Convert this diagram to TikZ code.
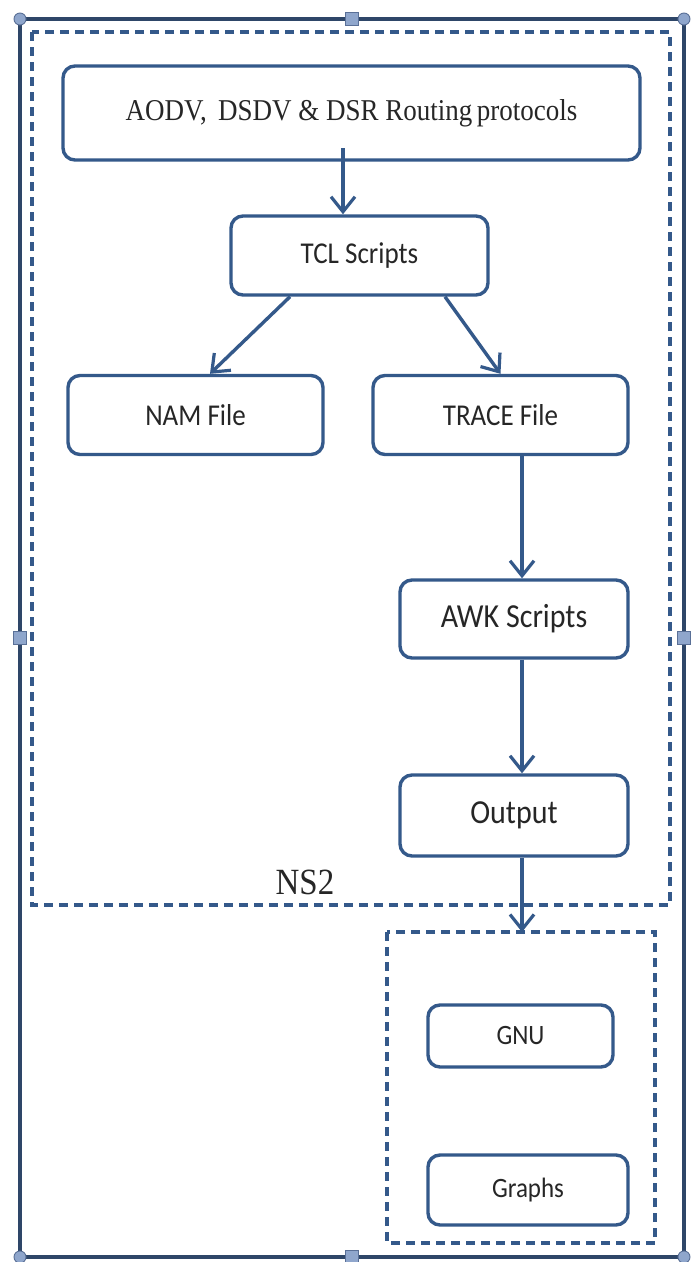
\documentclass[tikz,border=0pt]{standalone}
\usepackage{fontspec}
\setmainfont{Liberation Serif}
\newfontfamily\calfont{Carlito}
\usetikzlibrary{arrows.meta,calc}
\definecolor{ln}{HTML}{34598A}
\definecolor{fr}{HTML}{2E4668}
\definecolor{hf}{HTML}{8FA6CC}
\definecolor{hd}{HTML}{5A7097}
\newcommand\vs[1]{\scalebox{1}[1.12]{#1}}
\tikzset{
  box/.style={draw=ln, line width=3.4pt, rounded corners=12pt, fill=white, align=center, inner sep=0pt, text=black!85},
  cbox/.style={box, font=\calfont\fontsize{27}{30}\selectfont},
  arr/.style={draw=ln, line width=3.4pt, -{Straight Barb[length=15pt,width=24pt,line width=3.2pt]}},
  dbox/.style={draw=ln, line width=3.4pt, dash pattern=on 9pt off 6pt},
  frame/.style={draw=fr, line width=3.6pt},
  chandle/.style={circle, draw=hd, fill=hf, line width=0.9pt, minimum size=12pt, inner sep=0pt},
  shandle/.style={rectangle, draw=hd, fill=hf, line width=0.9pt, minimum size=13pt, inner sep=0pt}
}
\begin{document}
\begin{tikzpicture}[x=1pt,y=-1pt]
\useasboundingbox (0,0) rectangle (699,1262);
\fill[white] (0,0) rectangle (699,1262);
% outer frame
\draw[frame] (20,19) rectangle (684,1257);
% dashed containers
\draw[dbox] (32,32) rectangle (670,905);
\draw[dbox] (387,932) rectangle (655,1243);
\coordinate (g2top) at (522,932);
% boxes
\node[box, minimum width=577pt, minimum height=94pt, font=\fontsize{27}{30}\selectfont] (aodv) at (351.5,113) {\vs{AODV,\, DSDV \& DSR Routing\,protocols}};
\node[cbox, minimum width=257pt, minimum height=79pt] (tcl) at (359.5,255.5) {\vs{TCL Scripts}};
\node[cbox, minimum width=255pt, minimum height=79pt] (nam) at (195.5,415) {\vs{NAM File}};
\node[cbox, minimum width=255pt, minimum height=79pt] (trace) at (500.5,415) {\vs{TRACE File}};
\node[box, minimum width=228pt, minimum height=78pt, font=\calfont\fontsize{30}{33}\selectfont] (awk) at (514,619) {\vs{AWK Scripts}};
\node[box, minimum width=228pt, minimum height=81pt, font=\calfont\fontsize{30}{33}\selectfont] (out) at (514,815.5) {\vs{Output}};
\node[box, minimum width=185pt, minimum height=62pt, font=\calfont\fontsize{25}{28}\selectfont] (gnu) at (520.5,1036) {\vs{GNU}};
\node[box, minimum width=200pt, minimum height=70pt, font=\calfont\fontsize{25}{28}\selectfont] (graphs) at (528,1190) {\vs{Graphs}};
\node[font=\fontsize{33}{36}\selectfont, text=black!85] (ns2) at (305,882) {\vs{NS2}};
% connectors
\coordinate (ain) at (343,148);
\draw[arr] (ain) -- (ain |- tcl.north);
\draw[arr] ([xshift=-69.5pt]tcl.south) -- ([xshift=14.5pt]nam.north);
\draw[arr] ([xshift=85.5pt]tcl.south) -- (trace.north);
\draw[arr] (trace.south -| 522,0) -- (awk.north -| 522,0);
\draw[arr] (awk.south -| 522,0) -- (out.north -| 522,0);
\draw[arr] (out.south -| 522,0) -- (g2top);
% selection handles
\node[chandle] (h1) at (20,19) {};
\node[chandle] (h2) at (684,19) {};
\node[chandle] (h3) at (20,1257) {};
\node[chandle] (h4) at (684,1257) {};
\node[shandle] (h5) at (352,19) {};
\node[shandle] (h6) at (352,1257) {};
\node[shandle] (h7) at (20,638) {};
\node[shandle] (h8) at (684,638) {};
\end{tikzpicture}
\end{document}
